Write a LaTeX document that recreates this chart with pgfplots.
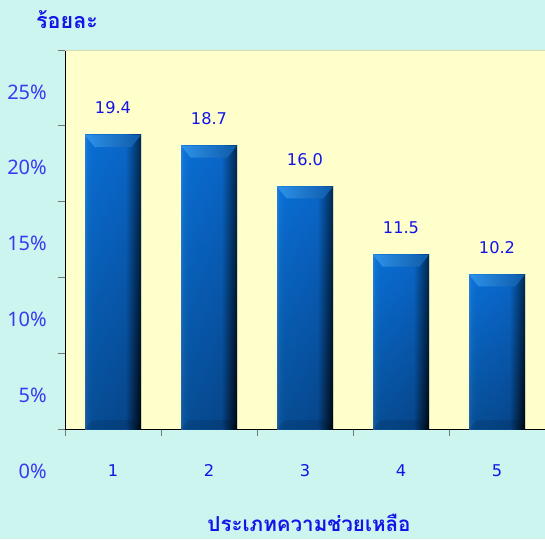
\documentclass[border=0pt]{standalone}
\usepackage{pgfplots}
\pgfplotsset{compat=1.18}
\usepackage{fontspec}
\setmainfont{Noto Sans}
\newfontfamily\numfont{DejaVu Sans}
\newfontfamily\thaifont[Script=Thai]{Loma}
\usetikzlibrary{shapes.geometric}
\definecolor{bgcyan}{HTML}{CCF5F0}
\definecolor{plotbg}{HTML}{FFFFCC}
\definecolor{lblblue}{HTML}{1414E8}
\definecolor{ticklbl}{HTML}{3A3AF0}
\definecolor{tickgray}{HTML}{707878}
\definecolor{topline}{HTML}{D2DCB4}
\definecolor{bL}{HTML}{2A8AE6}
\definecolor{bL2}{HTML}{1278DA}
\definecolor{bM}{HTML}{0A6ED4}
\definecolor{bM2}{HTML}{0A64C6}
\definecolor{bD}{HTML}{04386E}
\definecolor{bK}{HTML}{000A18}
\definecolor{bevL}{HTML}{2E92EA}
\definecolor{bevM}{HTML}{45A8FA}
\definecolor{bevR}{HTML}{0E5AA8}
\pgfdeclarehorizontalshading{barshade}{100bp}{color(0bp)=(bL); color(25bp)=(bL); color(27bp)=(bL2); color(31bp)=(bM); color(61bp)=(bM2); color(68bp)=(bD); color(75bp)=(bK); color(100bp)=(bK)}
\pgfplotsset{
  mainbar/.style={ybar, bar width=56pt, bar shift=0pt, draw=none, shading=barshade,
    postaction={shade, top color=bM, bottom color=black, opacity=0.3},
    nodes near coords={\pgfmathprintnumber[fixed,fixed zerofill,precision=1]{\pgfplotspointmeta}},
    every node near coord/.style={font=\numfont\fontsize{16.2}{20}\selectfont, text=lblblue, anchor=center, yshift=27pt}},
  topbev/.style={draw=none, mark=none, nodes near coords={},
    every node near coord/.style={trapezium, trapezium left angle=75.5, trapezium right angle=75.5,
      trapezium stretches=true, shape border rotate=180, minimum width=56pt, minimum height=12pt,
      inner sep=0.5pt, outer sep=0pt, anchor=bottom side, left color=bevL, middle color=bevM, right color=bevR, draw=none}},
  botbev/.style={draw=none, mark=none, nodes near coords={},
    every node near coord/.style={trapezium, trapezium left angle=78.7, trapezium right angle=78.7,
      trapezium stretches=true, minimum width=56pt, minimum height=9pt,
      inner sep=0.5pt, outer sep=0pt, anchor=bottom side, fill=black, fill opacity=0.1, draw=none}},
}
\begin{document}
\begin{tikzpicture}[x=1pt,y=1pt]
\fill[bgcyan] (0,0) rectangle (545,539);
\useasboundingbox (0,0) rectangle (545,539);
\begin{axis}[
  at={(65pt,110pt)}, anchor=south west,
  scale only axis, width=480pt, height=379pt,
  xmin=0.5, xmax=5.5, ymin=0, ymax=25,
  /pgf/number format/assume math mode=true,
  axis background/.style={fill=plotbg},
  axis x line=bottom, axis y line=left,
  axis line style={-, black, line width=0.9pt},
  tick align=outside, major tick length=7pt,
  tick style={draw=tickgray, line width=0.8pt},
  ytick={0,5,10,15,20,25}, yticklabels={0\%,5\%,10\%,15\%,20\%,25\%},
  yticklabel style={font=\fontsize{20}{24}\selectfont, text=ticklbl, anchor=east, inner sep=0pt, xshift=-11pt, yshift=-42pt},
  xtick={0.5,1.5,2.5,3.5,4.5,5.5}, xticklabels={{},{},{},{},{},{}},
  extra x ticks={1,2,3,4,5}, extra x tick labels={1,2,3,4,5},
  extra x tick style={major tick length=0pt, xticklabel style={font=\numfont\fontsize{16.2}{20}\selectfont, text=lblblue, anchor=base, inner sep=0pt, yshift=-47pt}},
  clip=false,
]
\addplot[mainbar] coordinates {(1,19.4)};
\addplot[mainbar] coordinates {(2,18.7)};
\addplot[mainbar] coordinates {(3,16.0)};
\addplot[mainbar] coordinates {(4,11.5)};
\addplot[mainbar] coordinates {(5,10.2)};
\addplot[topbev] coordinates {(1,19.4) (2,18.7) (3,16.0) (4,11.5) (5,10.2)};
\addplot[botbev] coordinates {(1,0) (2,0) (3,0) (4,0) (5,0)};
\draw[topline, line width=1pt] (rel axis cs:0,1) -- (rel axis cs:1,1);
\end{axis}
\node[anchor=base west, inner sep=0pt, text=lblblue, font=\thaifont\bfseries\fontsize{21.5}{25}\selectfont] at (36,510) {ร้อยละ};
\node[anchor=base, inner sep=0pt, text=lblblue, font=\thaifont\bfseries\fontsize{20.6}{24}\selectfont] at (309,8) {ประเภทความช่วยเหลือ};
\end{tikzpicture}
\end{document}
